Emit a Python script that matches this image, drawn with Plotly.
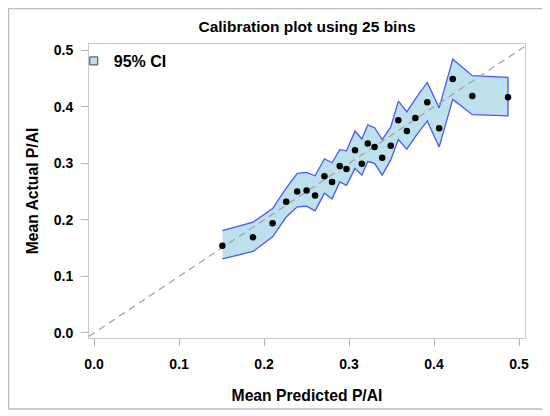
"""Calibration plot: mean predicted vs mean actual P/AI, 25 bins with 95% CI band."""

import plotly.graph_objects as go

# Bin means
mean_predicted = [0.151, 0.187, 0.210, 0.226, 0.239, 0.250, 0.260, 0.271, 0.280, 0.289,
                  0.297, 0.307, 0.315, 0.322, 0.330, 0.339, 0.349, 0.358, 0.368, 0.378,
                  0.392, 0.406, 0.422, 0.445, 0.487]
mean_actual = [0.154, 0.169, 0.194, 0.232, 0.250, 0.252, 0.243, 0.277, 0.267, 0.295,
               0.290, 0.323, 0.299, 0.335, 0.329, 0.310, 0.331, 0.376, 0.357, 0.380,
               0.408, 0.362, 0.449, 0.419, 0.417]
ci_upper = [0.181, 0.196, 0.220, 0.256, 0.282, 0.284, 0.278, 0.308, 0.301, 0.324,
            0.322, 0.357, 0.343, 0.368, 0.363, 0.342, 0.364, 0.410, 0.391, 0.414,
            0.443, 0.398, 0.484, 0.455, 0.452]
ci_lower = [0.131, 0.144, 0.170, 0.205, 0.223, 0.224, 0.216, 0.247, 0.237, 0.267,
            0.261, 0.291, 0.279, 0.303, 0.300, 0.279, 0.306, 0.342, 0.325, 0.347,
            0.375, 0.329, 0.413, 0.386, 0.384]

x_ticks = [0.0, 0.1, 0.2, 0.3, 0.4, 0.5]
y_ticks = [0.0, 0.1, 0.2, 0.3, 0.4, 0.5]
x_range = [-0.006, 0.507]
y_range = [-0.009, 0.511]

FONT = "Arial, Liberation Sans, sans-serif"
BAND_FILL = "#bde1ec"
BAND_LINE = "#4f55f7"
FRAME = "#c8c8c8"

# the page body adds an 8px margin, so the figure is sized/offset to fit 550x416
W, H = 542, 408

fig = go.Figure()

# 95% CI band as a closed polygon (upper edge out, lower edge back)
fig.add_trace(go.Scatter(
    x=mean_predicted + mean_predicted[::-1],
    y=ci_upper + ci_lower[::-1],
    mode="lines",
    fill="toself",
    fillcolor=BAND_FILL,
    line=dict(color=BAND_LINE, width=1.3),
    showlegend=False,
    hoverinfo="skip",
))

# legend entry: small filled box like the SAS band swatch
fig.add_trace(go.Scatter(
    x=[None],
    y=[None],
    mode="markers",
    marker=dict(symbol="square", size=8, color=BAND_FILL,
                line=dict(color="#404040", width=1)),
    name="95% CI",
))

# Perfect calibration reference line
fig.add_trace(go.Scatter(
    x=[x_range[0], x_range[1]],
    y=[x_range[0], x_range[1]],
    mode="lines",
    line=dict(color="#a0a0a0", width=1.2, dash="7px,5px"),
    showlegend=False,
    hoverinfo="skip",
))

fig.add_trace(go.Scatter(
    x=mean_predicted,
    y=mean_actual,
    mode="markers",
    marker=dict(color="black", size=6.5),
    showlegend=False,
))

axis_common = dict(
    showgrid=False,
    zeroline=False,
    showline=True,
    mirror=True,
    linecolor=FRAME,
    linewidth=1,
    ticks="outside",
    ticklen=7,
    tickcolor="#b0b0b0",
    tickformat=".1f",
    tickfont=dict(family=FONT, size=14, color="black", weight="bold"),
)

fig.update_layout(
    width=W,
    height=H,
    margin=dict(l=81, r=25, t=36, b=78),
    paper_bgcolor="white",
    plot_bgcolor="white",
    font=dict(family=FONT, color="black"),
    title=dict(
        text="<b>Calibration plot using 25 bins</b>",
        font=dict(family=FONT, size=15.5, color="black"),
        x=0.5, xref="paper", xanchor="center",
        y=1 - 19 / H, yref="container", yanchor="middle",
    ),
    xaxis=dict(
        range=x_range,
        tickvals=x_ticks,
        ticklabelstandoff=6,
        title=dict(text="<b>Mean Predicted P/AI</b>",
                   font=dict(family=FONT, size=15.7, color="black"), standoff=19),
        **axis_common,
    ),
    yaxis=dict(
        range=y_range,
        tickvals=y_ticks,
        ticklabelstandoff=5,
        title=dict(text="<b>Mean Actual P/AI</b>",
                   font=dict(family=FONT, size=15.7, color="black"), standoff=11),
        **axis_common,
    ),
    legend=dict(
        x=-0.035, y=1.0, xanchor="left", yanchor="top",
        bgcolor="rgba(0,0,0,0)",
        font=dict(family=FONT, size=16, color="black", weight="bold"),
    ),
    # light outer frame around the whole graphic
    shapes=[dict(
        type="rect", xref="paper", yref="paper",
        x0=-0.1846, x1=1.0413, y0=-0.2415, y1=1.1207,
        line=dict(color="#bcbcbc", width=1.5),
        fillcolor="rgba(0,0,0,0)",
        layer="above",
    )],
)

fig.write_html("out.html")
